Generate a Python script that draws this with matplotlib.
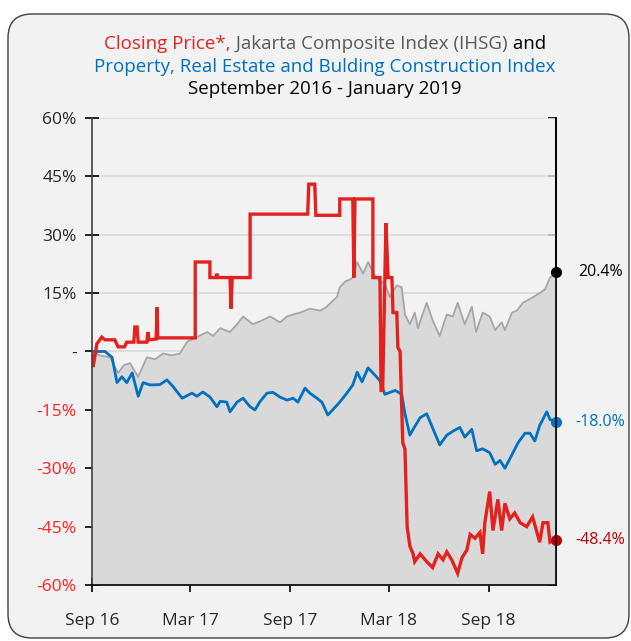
import numpy as np
import pandas as pd
import matplotlib
matplotlib.use("Agg")
import matplotlib.pyplot as plt
import matplotlib.dates as mdates
from matplotlib.patches import FancyBboxPatch
from matplotlib.transforms import IdentityTransform

plt.rcParams['font.family'] = ['Open Sans', 'DejaVu Sans']

# Jakarta Composite Index (IHSG), % change since Sep 2016
ihsg_dates = ['2016-09-01', '2016-09-15', '2016-10-04', '2016-10-19', '2016-10-30', '2016-11-10',
              '2016-11-25', '2016-12-11', '2016-12-26', '2017-01-10', '2017-01-26', '2017-02-10',
              '2017-02-23', '2017-03-10', '2017-04-01', '2017-04-12', '2017-04-25', '2017-05-13',
              '2017-05-26', '2017-06-06', '2017-06-24', '2017-07-11', '2017-07-26', '2017-08-13',
              '2017-08-26', '2017-09-06', '2017-09-19', '2017-10-07', '2017-10-26', '2017-11-07',
              '2017-11-18', '2017-11-26', '2017-12-01', '2017-12-11', '2017-12-20', '2017-12-25',
              '2018-01-02', '2018-01-13', '2018-01-22', '2018-02-04', '2018-02-13', '2018-02-22',
              '2018-03-03', '2018-03-16', '2018-03-25', '2018-03-31', '2018-04-09', '2018-04-18',
              '2018-04-24', '2018-05-01', '2018-05-10', '2018-05-21', '2018-06-03', '2018-06-16',
              '2018-06-27', '2018-07-06', '2018-07-19', '2018-08-01', '2018-08-09', '2018-08-21',
              '2018-09-03', '2018-09-13', '2018-09-25', '2018-10-01', '2018-10-14', '2018-10-23',
              '2018-11-03', '2018-11-16', '2018-12-04', '2018-12-14', '2018-12-23', '2019-01-03']
ihsg_vals = [0, -1, -1.5, -5.5, -3.5, -3, -6.5, -1.5, -2, -0.5, -1, -0.5,
             2.5, 3.5, 5, 4, 6, 5, 7, 9, 7, 8, 9, 7.5,
             9, 9.5, 10, 11, 10.5, 11.5, 13, 14, 16.5, 18, 18.5, 19,
             23, 20, 23, 19.5, 18, 17.5, 14, 17, 16.5, 9.5, 7, 10,
             6, 9, 12.5, 8, 4, 9.5, 9, 12.5, 7, 11.5, 5, 10,
             9, 5.5, 7.5, 5.5, 10, 10.5, 12.5, 13.5, 15, 16, 19, 20.4]

# Property, Real Estate and Building Construction Index
prop_dates = ['2016-09-01', '2016-09-25', '2016-10-08', '2016-10-17', '2016-10-26', '2016-11-04',
              '2016-11-14', '2016-11-25', '2016-12-04', '2016-12-17', '2017-01-04', '2017-01-17',
              '2017-01-28', '2017-02-14', '2017-03-04', '2017-03-13', '2017-03-24', '2017-04-06',
              '2017-04-19', '2017-04-25', '2017-05-07', '2017-05-13', '2017-05-26', '2017-06-06',
              '2017-06-19', '2017-06-28', '2017-07-07', '2017-07-20', '2017-07-31', '2017-08-13',
              '2017-08-26', '2017-09-06', '2017-09-15', '2017-09-28', '2017-10-07', '2017-10-20',
              '2017-10-29', '2017-11-09', '2017-11-18', '2017-12-01', '2017-12-14', '2017-12-25',
              '2018-01-02', '2018-01-11', '2018-01-22', '2018-01-31', '2018-02-13', '2018-02-22',
              '2018-03-13', '2018-03-25', '2018-03-31', '2018-04-09', '2018-04-15', '2018-04-28',
              '2018-05-10', '2018-05-25', '2018-06-03', '2018-06-16', '2018-06-27', '2018-07-10',
              '2018-07-19', '2018-08-01', '2018-08-10', '2018-08-21', '2018-09-03', '2018-09-13',
              '2018-09-22', '2018-10-01', '2018-10-14', '2018-10-25', '2018-11-07', '2018-11-16',
              '2018-11-25', '2018-12-04', '2018-12-17', '2018-12-23', '2019-01-03']
prop_vals = [0, 0, -1.5, -8, -6.5, -8, -5.5, -11.5, -8, -8.6, -8.5, -7.3,
             -9, -12, -10.7, -11.5, -10.4, -11.7, -14.2, -12.8, -13, -15.5, -13, -12,
             -14.2, -15, -12.9, -10.7, -10.5, -11.7, -12.5, -12, -13, -9.4, -10.7, -12,
             -13, -16.3, -15, -13, -10.7, -8.6, -5.3, -7.8, -4.2, -5.5, -7.5, -11,
             -10, -11, -16, -21.5, -20, -17, -16, -21, -24, -21.5, -20.5, -19.5,
             -22, -20, -25.5, -25, -26, -29, -28, -30, -26.5, -23.5, -21, -21,
             -23, -19, -15.5, -17.5, -18]

# Closing price
close_dates = ['2016-09-01', '2016-09-03', '2016-09-10', '2016-09-19', '2016-09-25', '2016-10-13',
               '2016-10-19', '2016-10-31', '2016-11-04', '2016-11-17', '2016-11-19', '2016-11-23',
               '2016-11-25', '2016-12-11', '2016-12-13', '2016-12-15', '2016-12-28', '2016-12-30',
               '2016-12-31', '2017-03-10', '2017-03-10', '2017-04-06', '2017-04-06', '2017-04-17',
               '2017-04-19', '2017-04-21', '2017-05-13', '2017-05-15', '2017-05-17', '2017-06-19',
               '2017-06-19', '2017-10-03', '2017-10-05', '2017-10-16', '2017-10-18', '2017-12-01',
               '2017-12-01', '2017-12-25', '2017-12-27', '2017-12-29', '2018-01-31', '2018-01-31',
               '2018-02-13', '2018-02-15', '2018-02-18', '2018-02-24', '2018-02-28', '2018-03-07',
               '2018-03-09', '2018-03-16', '2018-03-18', '2018-03-22', '2018-03-27', '2018-03-31',
               '2018-04-04', '2018-04-09', '2018-04-15', '2018-04-18', '2018-04-28', '2018-05-10',
               '2018-05-21', '2018-05-31', '2018-06-09', '2018-06-16', '2018-06-25', '2018-07-06',
               '2018-07-14', '2018-07-23', '2018-07-29', '2018-08-07', '2018-08-16', '2018-08-21',
               '2018-08-25', '2018-09-03', '2018-09-09', '2018-09-18', '2018-09-25', '2018-10-01',
               '2018-10-10', '2018-10-19', '2018-10-29', '2018-11-10', '2018-11-21', '2018-12-04',
               '2018-12-10', '2018-12-19', '2018-12-23', '2019-01-03']
close_vals = [-1, -4, 2, 3.7, 3, 3, 1.2, 1.2, 2.4, 2.4, 6.3, 6.3,
              2.4, 2.4, 5, 3, 3.2, 11.4, 3.5, 3.5, 23, 23, 19, 19,
              20, 19, 19, 11, 19, 19, 35.3, 35.3, 43, 43, 35, 35,
              39.2, 39.2, 19, 39.2, 39.2, 19, 19, -10, -10, 33, 19, 19,
              10, 10, 1, 0, -23.5, -25, -45, -50, -52, -54, -52, -54,
              -55.5, -52, -53.5, -51.5, -53.5, -57, -53, -51, -47, -48, -46.5, -52,
              -44, -36, -46, -38, -46, -39, -43, -41.5, -44, -45, -42.5, -49,
              -44, -44, -49, -48.4]

yticks = [60, 45, 30, 15, 0, -15, -30, -45, -60]
ytick_labels = ['60%', '45%', '30%', '15%', '-', '-15%', '-30%', '-45%', '-60%']
xtick_dates = ['2016-09-01', '2017-03-01', '2017-09-01', '2018-03-01', '2018-09-01']

RED = '#e3211e'
BLUE = '#0070c0'
BG = '#f2f2f2'
LFS = 12.5

ihsg_x = pd.to_datetime(ihsg_dates)
prop_x = pd.to_datetime(prop_dates)
close_x = pd.to_datetime(close_dates)

fig = plt.figure(figsize=(6.31, 6.41), dpi=100, facecolor='white')
box = FancyBboxPatch((8, 3), 621, 624, boxstyle='round,pad=0,rounding_size=24',
                     transform=IdentityTransform(), facecolor=BG, edgecolor='#404040',
                     linewidth=1.0, zorder=-10)
fig.patches.append(box)

ax = fig.add_axes([92/631, 56/641, 464/631, 467/641])
ax.set_facecolor(BG)

ax.fill_between(ihsg_x, ihsg_vals, -60, color='#d9d9d9', lw=0, zorder=1)
ax.plot(ihsg_x, ihsg_vals, color='#a6a6a6', lw=1.3, zorder=2)
ax.plot(prop_x, prop_vals, color=BLUE, lw=2.0, zorder=3)
ax.plot(close_x, close_vals, color=RED, lw=2.4, zorder=4, solid_joinstyle='miter')

# end markers and labels
ax.plot(ihsg_x[-1], ihsg_vals[-1], 'o', color='black', ms=7, zorder=6, clip_on=False)
ax.plot(prop_x[-1], prop_vals[-1], 'o', color=BLUE, ms=7, zorder=6, clip_on=False)
ax.plot(close_x[-1], close_vals[-1], 'o', color='#c00000', ms=7, zorder=6, clip_on=False)
ax.annotate('20.4%', (ihsg_x[-1], ihsg_vals[-1]), xytext=(16, 0), textcoords='offset points',
            va='center', ha='left', fontsize=11.5, color='black')
ax.annotate('-18.0%', (prop_x[-1], prop_vals[-1]), xytext=(14, 0), textcoords='offset points',
            va='center', ha='left', fontsize=11.5, color=BLUE)
ax.annotate('-48.4%', (close_x[-1], close_vals[-1]), xytext=(14, 0), textcoords='offset points',
            va='center', ha='left', fontsize=11.5, color='#c00000')

ax.set_ylim(-60, 60)
ax.set_xlim(pd.Timestamp('2016-09-01'), pd.Timestamp('2019-01-03'))
ax.set_yticks(yticks)
ax.set_yticklabels(ytick_labels, fontsize=LFS)
for lab, v in zip(ax.get_yticklabels(), yticks):
    lab.set_color('#ff2020' if v < 0 else '#262626')
ax.set_xticks(pd.to_datetime(xtick_dates))
ax.xaxis.set_major_formatter(mdates.DateFormatter('%b %y'))
for lab in ax.get_xticklabels():
    lab.set_fontsize(LFS)
    lab.set_color('#262626')

ax.grid(axis='y', color='#d9d9d9', lw=1.2, zorder=0)
ax.set_axisbelow(True)
ax.tick_params(axis='y', direction='inout', length=10, width=1.2, pad=6)
ax.tick_params(axis='x', direction='inout', length=10, width=1.2, pad=15)
ax.spines['top'].set_visible(False)
for s in ['left', 'right', 'bottom']:
    ax.spines[s].set_linewidth(1.2)
    ax.spines[s].set_zorder(7)
ax.spines['left'].set_color('#404040')

# right axis: inward ticks only
sec = ax.secondary_yaxis('right')
sec.set_yticks(yticks)
sec.tick_params(direction='in', length=6, width=1.2, labelright=False)
sec.spines['right'].set_linewidth(1.2)

# title with coloured parts
TFS = 13.5
renderer = fig.canvas.get_renderer()
parts = [('Closing Price*,', RED), (' Jakarta Composite Index (IHSG)', '#595959'), (' and', 'black')]
texts = []
x0 = 0.0
for s, c in parts:
    t = fig.text(x0, 1 - 44/641, s, color=c, fontsize=TFS, ha='left', va='center')
    bb = t.get_window_extent(renderer)
    texts.append(t)
    x0 += bb.width / fig.bbox.width
shift = 325/631 - x0 / 2
xx = shift
for t in texts:
    bb = t.get_window_extent(renderer)
    t.set_x(xx)
    xx += bb.width / fig.bbox.width
fig.text(325/631, 1 - 67/641, 'Property, Real Estate and Bulding Construction Index', color=BLUE,
         fontsize=TFS, ha='center', va='center')
fig.text(325/631, 1 - 89/641, 'September 2016 - January 2019', color='black',
         fontsize=TFS, ha='center', va='center')

fig.savefig('out.png', dpi=100, facecolor='white')
